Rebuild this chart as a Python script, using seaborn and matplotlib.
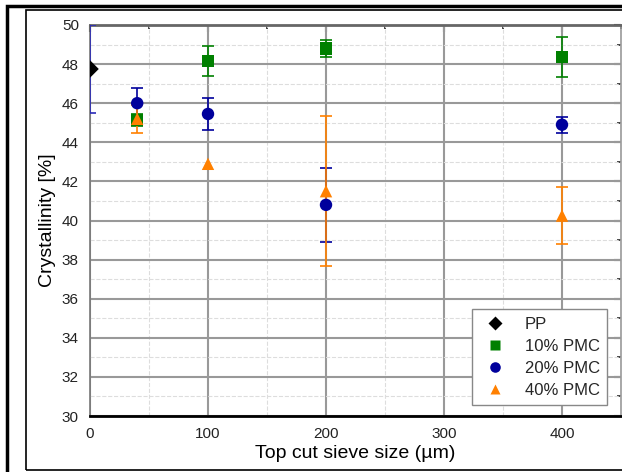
import seaborn as sns
import matplotlib.pyplot as plt
import matplotlib.patches as mpatches
from matplotlib.ticker import MultipleLocator
import pandas as pd

# values
samples = ['PP', '10% PMC', '20% PMC', '40% PMC']
pp_size = [0]
pp_cryst = [47.75]
pp_err = [2.25]
sizes = [40, 100, 200, 400]
pmc10_cryst = [45.15, 48.15, 48.8, 48.35]
pmc10_err = [0.3, 0.78, 0.45, 1.03]
pmc20_cryst = [46.0, 45.45, 40.8, 44.9]
pmc20_err = [0.8, 0.8, 1.9, 0.4]
pmc40_cryst = [45.2, 42.9, 41.5, 40.25]
pmc40_err = [0.7, 0.0, 3.85, 1.45]

colors = {'PP': 'black', '10% PMC': '#008000', '20% PMC': '#00009c', '40% PMC': '#ff8000'}
err_colors = {'PP': '#2a2ab8', '10% PMC': '#008000', '20% PMC': '#00009c', '40% PMC': '#ff8000'}
markers = {'PP': 'D', '10% PMC': 's', '20% PMC': 'o', '40% PMC': '^'}

df = pd.concat([
    pd.DataFrame({'size': pp_size, 'cryst': pp_cryst, 'err': pp_err, 'sample': 'PP'}),
    pd.DataFrame({'size': sizes, 'cryst': pmc10_cryst, 'err': pmc10_err, 'sample': '10% PMC'}),
    pd.DataFrame({'size': sizes, 'cryst': pmc20_cryst, 'err': pmc20_err, 'sample': '20% PMC'}),
    pd.DataFrame({'size': sizes, 'cryst': pmc40_cryst, 'err': pmc40_err, 'sample': '40% PMC'}),
], ignore_index=True)

sns.set_style('white')
plt.rcParams['font.family'] = ['Liberation Sans', 'DejaVu Sans']

fig = plt.figure(figsize=(6.22, 4.72), dpi=100)
ax = fig.add_axes([90 / 622, 1 - 416 / 472, 531 / 622, 391 / 472])

# frames around the figure
fig.patches.append(mpatches.Rectangle((7 / 622, -0.1), 1.2, 1 - 6 / 472 + 0.1, transform=fig.transFigure,
                                      fill=False, edgecolor='black', linewidth=2.5))
fig.patches.append(mpatches.Rectangle((26 / 622, 2 / 472), 1.2, 1 - 12 / 472, transform=fig.transFigure,
                                      fill=False, edgecolor='black', linewidth=1.2))

for s in samples:
    d = df[(df['sample'] == s) & (df['err'] > 0)]
    ax.errorbar(d['size'], d['cryst'], yerr=d['err'], fmt='none', ecolor=err_colors[s],
                elinewidth=1.2, capsize=4, capthick=1.2, zorder=3)

sns.scatterplot(data=df, x='size', y='cryst', hue='sample', style='sample',
                palette=colors, markers=markers, hue_order=samples, style_order=samples,
                s=80, edgecolor='none', ax=ax, zorder=4)

ax.set_xlim(0, 450)
ax.set_ylim(30, 50)
ax.xaxis.set_major_locator(MultipleLocator(100))
ax.xaxis.set_minor_locator(MultipleLocator(50))
ax.yaxis.set_major_locator(MultipleLocator(2))
ax.yaxis.set_minor_locator(MultipleLocator(1))
ax.grid(which='major', color='#999999', linewidth=1.5, linestyle='-')
ax.grid(which='minor', color='#dddddd', linewidth=0.8, linestyle='--')
ax.set_axisbelow(True)

ax.tick_params(which='major', direction='out', length=5, width=1.5, color='black',
               labelsize=11, labelcolor='#222222', pad=3)
ax.tick_params(which='minor', direction='out', length=3, width=1.2, color='black')

top = ax.secondary_xaxis('top')
top.xaxis.set_major_locator(MultipleLocator(100))
top.xaxis.set_minor_locator(MultipleLocator(50))
top.tick_params(which='major', direction='in', length=5, width=1.5, labeltop=False)
top.tick_params(which='minor', direction='in', length=3, width=1.2)
top.spines['top'].set_visible(False)
right = ax.secondary_yaxis('right')
right.yaxis.set_major_locator(MultipleLocator(2))
right.yaxis.set_minor_locator(MultipleLocator(1))
right.tick_params(which='major', direction='in', length=5, width=1.5, labelright=False)
right.tick_params(which='minor', direction='in', length=3, width=1.2)
right.spines['right'].set_visible(False)

for side, col, lw in [('bottom', 'black', 2), ('left', '#777777', 1.2), ('top', '#666666', 2), ('right', '#999999', 1.2)]:
    ax.spines[side].set_color(col)
    ax.spines[side].set_linewidth(lw)

ax.set_xlabel('Top cut sieve size (µm)', fontsize=14, color='black', labelpad=3)
ax.set_ylabel('Crystallinity [%]', fontsize=14, color='black', labelpad=4)

handles, labels = ax.get_legend_handles_labels()
leg = ax.legend(handles, labels, loc='lower right', bbox_to_anchor=(0.974, 0.028), borderaxespad=0,
                fontsize=12, frameon=True, fancybox=False, edgecolor='#888888', framealpha=1,
                handletextpad=0.9, labelspacing=0.42, borderpad=0.45, handlelength=1.8, markerscale=0.85)
leg.get_frame().set_linewidth(1.0)

fig.savefig('out.png', dpi=100)
